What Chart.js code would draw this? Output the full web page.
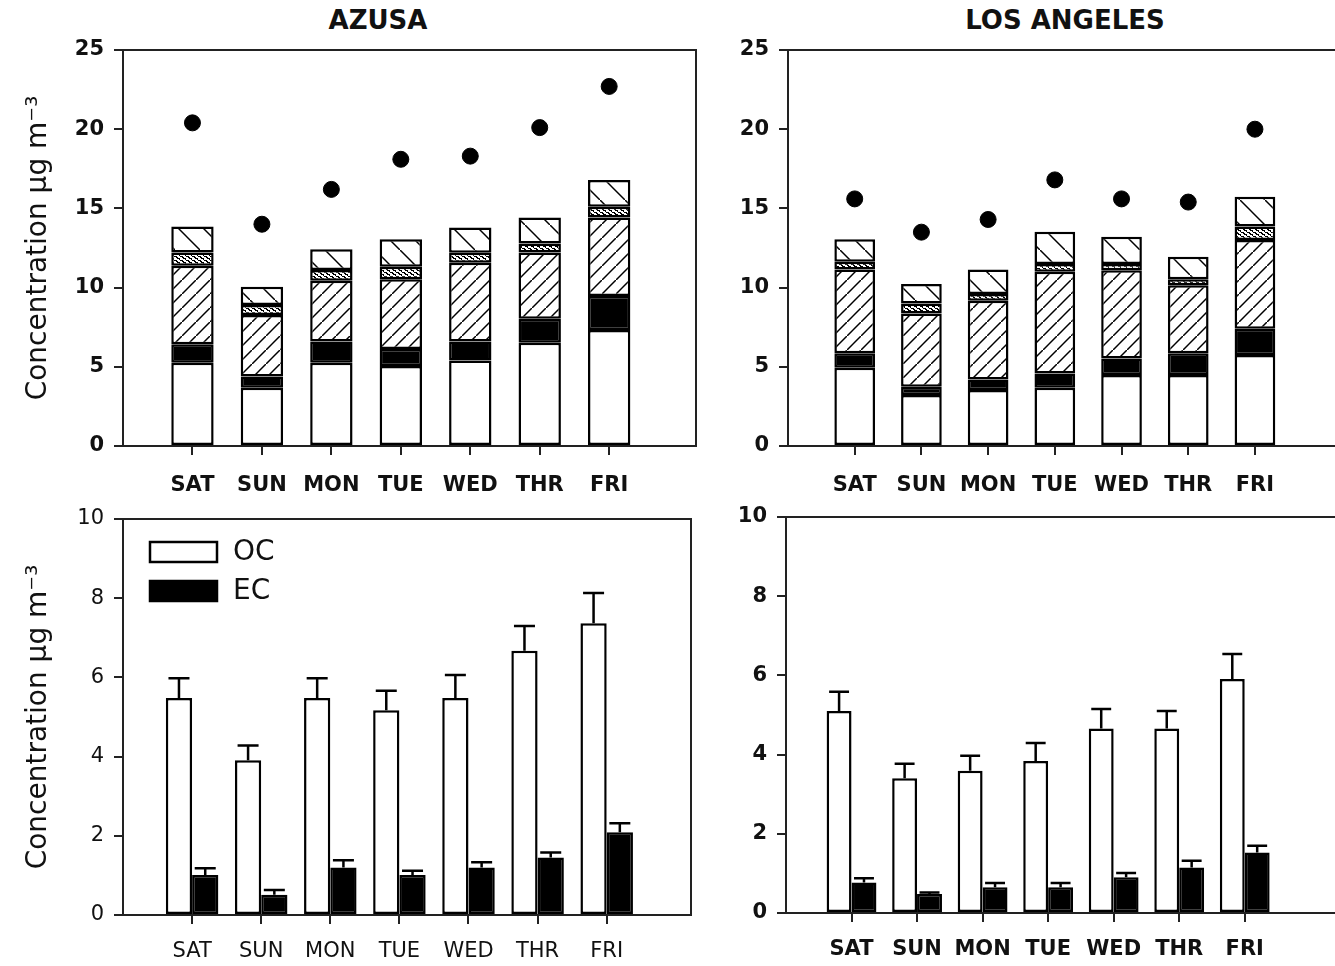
<!DOCTYPE html>
<html>
<head>
<meta charset="utf-8">
<title>Carbon by day of week</title>
<script src="https://cdn.jsdelivr.net/npm/chart.js@4.4.0/dist/chart.umd.min.js"></script>
<style>
  html, body { margin: 0; padding: 0; background: #fff; overflow: hidden; }
  body { width: 1335px; height: 966px; position: relative; }
  .panel { position: absolute; }
  .site { position: absolute; top: 6px; width: 400px; text-align: center;
          font: bold 26px 'DejaVu Sans', sans-serif; line-height: 28px; color: #111; }
</style>
</head>
<body>
<div class="site" style="left:178px">AZUSA</div>
<div class="site" style="left:865px">LOS ANGELES</div>

<div class="panel" style="left:0;top:0;width:706px;height:500px"><canvas id="azusaStack"></canvas></div>
<div class="panel" style="left:665px;top:0;width:700px;height:500px"><canvas id="laStack"></canvas></div>
<div class="panel" style="left:0;top:469px;width:701px;height:500px"><canvas id="azusaBars"></canvas></div>
<div class="panel" style="left:663px;top:467px;width:702px;height:500px"><canvas id="laBars"></canvas></div>

<script>
const days = ['SAT', 'SUN', 'MON', 'TUE', 'WED', 'THR', 'FRI'];
const yTicksTop = [0, 5, 10, 15, 20, 25];
const yTicksBottom = [0, 2, 4, 6, 8, 10];

// stacked components, bottom to top (ug m-3)
const azusaOC    = [5.26, 3.68, 5.26, 5.05, 5.39, 6.52, 7.32];
const azusaEC    = [1.17, 0.70, 1.33, 1.07, 1.20, 1.52, 2.15];
const azusaPart3 = [4.95, 3.89, 3.85, 4.40, 4.98, 4.18, 4.95];
const azusaPart4 = [0.84, 0.63, 0.67, 0.80, 0.63, 0.56, 0.68];
const azusaPart5 = [1.63, 1.16, 1.31, 1.73, 1.60, 1.64, 1.70];
const azusaTotal = [20.4, 14.0, 16.2, 18.1, 18.3, 20.1, 22.7];

const laOC    = [4.94, 3.22, 3.53, 3.68, 4.48, 4.48, 5.74];
const laEC    = [0.91, 0.52, 0.67, 0.90, 1.05, 1.37, 1.66];
const laPart3 = [5.30, 4.63, 4.97, 6.42, 5.57, 4.30, 5.60];
const laPart4 = [0.48, 0.63, 0.43, 0.49, 0.39, 0.37, 0.85];
const laPart5 = [1.42, 1.22, 1.55, 2.04, 1.72, 1.43, 1.89];
const laTotal = [15.6, 13.5, 14.3, 16.8, 15.6, 15.4, 20.0];

// daily means with upper error
const azusaOCMean = [5.48, 3.91, 5.48, 5.17, 5.48, 6.67, 7.37];
const azusaOCErr  = [0.50, 0.37, 0.50, 0.49, 0.58, 0.63, 0.76];
const azusaECMean = [1.01, 0.51, 1.20, 1.01, 1.20, 1.45, 2.09];
const azusaECErr  = [0.17, 0.12, 0.18, 0.11, 0.13, 0.13, 0.23];

const laOCMean = [5.10, 3.40, 3.59, 3.84, 4.66, 4.66, 5.91];
const laOCErr  = [0.49, 0.37, 0.38, 0.45, 0.49, 0.44, 0.63];
const laECMean = [0.77, 0.48, 0.65, 0.65, 0.90, 1.15, 1.53];
const laECErr  = [0.11, 0.04, 0.11, 0.11, 0.11, 0.17, 0.17];

const INK = '#111';
Chart.defaults.font.family = "'DejaVu Sans', sans-serif";
Chart.defaults.color = INK;
Chart.defaults.animation = false;

const pts = arr => arr.map((v, i) => ({ x: i + 1, y: v }));

// fill patterns
function hatch(ctx, size, forward) {
  const c = document.createElement('canvas');
  c.width = c.height = size;
  const g = c.getContext('2d');
  g.fillStyle = '#fff';
  g.fillRect(0, 0, size, size);
  g.strokeStyle = '#000';
  g.lineWidth = 1.5;
  g.beginPath();
  if (forward) {
    g.moveTo(-2, size + 2); g.lineTo(size + 2, -2);
  } else {
    g.moveTo(-2, -2); g.lineTo(size + 2, size + 2);
  }
  g.stroke();
  return ctx.createPattern(c, 'repeat');
}

function dots(ctx) {
  const c = document.createElement('canvas');
  c.width = 6; c.height = 4;
  const g = c.getContext('2d');
  g.fillStyle = '#fff';
  g.fillRect(0, 0, 6, 4);
  g.fillStyle = '#000';
  g.fillRect(0, 0, 3, 1);
  g.fillRect(3, 2, 3, 1);
  g.fillRect(2, 1, 2, 1);
  g.fillRect(5, 3, 1, 1);
  return ctx.createPattern(c, 'repeat');
}

// box around the plot area
const frame = {
  id: 'frame',
  afterDatasetsDraw(chart) {
    const { ctx, chartArea: a } = chart;
    ctx.save();
    ctx.strokeStyle = '#222';
    ctx.lineWidth = 2;
    ctx.strokeRect(a.left, a.top, a.right - a.left, a.bottom - a.top);
    ctx.restore();
  }
};

// one-sided error bars read from dataset.errors
const errorBars = {
  id: 'errorBars',
  afterDatasetsDraw(chart) {
    const { ctx } = chart;
    const y = chart.scales.y;
    chart.data.datasets.forEach((ds, i) => {
      if (!ds.errors) return;
      chart.getDatasetMeta(i).data.forEach((bar, j) => {
        const top = y.getPixelForValue(ds.data[j].y + ds.errors[j]);
        const half = bar.width * 0.4;
        ctx.save();
        ctx.strokeStyle = '#000';
        ctx.lineWidth = 2.5;
        ctx.beginPath();
        ctx.moveTo(bar.x, bar.y);
        ctx.lineTo(bar.x, top);
        ctx.moveTo(bar.x - half, top);
        ctx.lineTo(bar.x + half, top);
        ctx.stroke();
        ctx.restore();
      });
    });
  }
};

// legend drawn inside the plot area
const boxLegend = {
  id: 'boxLegend',
  afterDraw(chart, args, opts) {
    if (!opts.show) return;
    const { ctx, chartArea: a } = chart;
    ctx.save();
    chart.data.datasets.forEach((ds, i) => {
      const y = a.top + opts.top + i * opts.rowGap;
      ctx.fillStyle = ds.backgroundColor;
      ctx.fillRect(a.left + opts.left, y, opts.boxW, opts.boxH);
      ctx.strokeStyle = '#000';
      ctx.lineWidth = 2.5;
      ctx.strokeRect(a.left + opts.left, y, opts.boxW, opts.boxH);
      ctx.fillStyle = INK;
      ctx.font = opts.font;
      ctx.textBaseline = 'middle';
      ctx.fillText(ds.label, a.left + opts.left + opts.boxW + 16, y + opts.boxH / 2 + 1);
    });
    ctx.restore();
  }
};

function xAxis(max, bold, pad) {
  return {
    type: 'linear', min: 0, max: max, offset: false,
    afterBuildTicks: axis => { axis.ticks = days.map((d, i) => ({ value: i + 1 })); },
    afterFit: axis => { axis.height = 54; },
    grid: { offset: false, drawOnChartArea: false, drawTicks: true, tickLength: 9,
            lineWidth: 2, color: '#222' },
    border: { display: false },
    ticks: { padding: pad, autoSkip: false, maxRotation: 0,
             font: { size: 21, weight: bold ? 'bold' : 'normal' },
             callback: v => days[v - 1] }
  };
}

function yAxis(ticks, bold, withTitle) {
  return {
    min: ticks[0], max: ticks[ticks.length - 1], stacked: true,
    afterBuildTicks: axis => { axis.ticks = ticks.map(v => ({ value: v })); },
    afterFit: axis => { axis.width = 123; },
    grid: { drawOnChartArea: false, drawTicks: true, tickLength: 9, lineWidth: 2, color: '#222' },
    border: { display: false },
    ticks: { padding: 10, font: { size: 21, weight: bold ? 'bold' : 'normal' } },
    title: { display: withTitle, text: 'Concentration µg m⁻³',
             font: { size: 28 }, padding: { top: 22, bottom: 0 } }
  };
}

function stackPanel(id, parts, totals, xMax, withTitle) {
  const ctx = document.getElementById(id).getContext('2d');
  const fills = ['#fff', '#000', hatch(ctx, 14, true), dots(ctx), hatch(ctx, 25, false)];
  const names = ['OC', 'EC', 'part 3', 'part 4', 'part 5'];
  const datasets = parts.map((p, k) => ({
    type: 'bar', label: names[k], data: pts(p), stack: 'mass',
    backgroundColor: fills[k], borderColor: '#000', borderWidth: 2.5, borderSkipped: false,
    categoryPercentage: 1, barPercentage: 0.61
  }));
  datasets.push({
    type: 'line', label: 'total', data: pts(totals), stack: 'dots', showLine: false,
    pointRadius: 8, pointBorderWidth: 1, pointBackgroundColor: '#000', pointBorderColor: '#000'
  });
  const y = yAxis(yTicksTop, true, withTitle);
  return new Chart(ctx, {
    type: 'bar',
    data: { datasets },
    options: {
      responsive: true, maintainAspectRatio: false,
      layout: { padding: { top: 50, right: 10, left: 0, bottom: 0 } },
      scales: { x: Object.assign(xAxis(xMax, true, 18), { stacked: true }), y },
      plugins: { legend: { display: false }, tooltip: { enabled: false }, boxLegend: { show: false } }
    },
    plugins: [frame, boxLegend]
  });
}

function barPanel(id, ocMean, ocErr, ecMean, ecErr, xMax, bold, withTitle, showLegend, padRight) {
  const ctx = document.getElementById(id).getContext('2d');
  const y = yAxis(yTicksBottom, bold, withTitle);
  y.stacked = false;
  return new Chart(ctx, {
    type: 'bar',
    data: {
      datasets: [
        { label: 'OC', data: pts(ocMean), errors: ocErr, backgroundColor: '#fff',
          borderColor: '#000', borderWidth: 2.5, borderSkipped: false,
          categoryPercentage: 0.76, barPercentage: 1 },
        { label: 'EC', data: pts(ecMean), errors: ecErr, backgroundColor: '#000',
          borderColor: '#000', borderWidth: 2.5, borderSkipped: false,
          categoryPercentage: 0.76, barPercentage: 1 }
      ]
    },
    options: {
      responsive: true, maintainAspectRatio: false,
      layout: { padding: { top: 50, right: padRight, left: 0, bottom: 0 } },
      scales: { x: xAxis(xMax, bold, 15), y },
      plugins: {
        legend: { display: false }, tooltip: { enabled: false },
        boxLegend: { show: showLegend, left: 27, top: 23, rowGap: 39, boxW: 67, boxH: 20,
                     font: "28px 'DejaVu Sans', sans-serif" }
      }
    },
    plugins: [frame, errorBars, boxLegend]
  });
}

stackPanel('azusaStack', [azusaOC, azusaEC, azusaPart3, azusaPart4, azusaPart5], azusaTotal, 8.25, true);
stackPanel('laStack', [laOC, laEC, laPart3, laPart4, laPart5], laTotal, 8.5, false);
barPanel('azusaBars', azusaOCMean, azusaOCErr, azusaECMean, azusaECErr, 8.22, false, true, true, 10);
barPanel('laBars', laOCMean, laOCErr, laECMean, laECErr, 8.53, true, false, false, 20);
</script>
</body>
</html>
